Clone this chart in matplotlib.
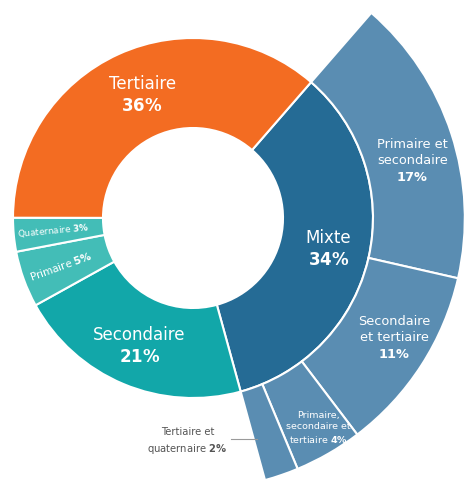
import matplotlib.pyplot as plt
import numpy as np

# répartition par secteur (anneau principal)
secteurs = ['Mixte', 'Secondaire', 'Primaire', 'Quaternaire', 'Tertiaire']
parts = [34, 21, 5, 3, 36]
couleurs = ['#256b95', '#12a7a9', '#43bdb7', '#43bdb7', '#f36c22']

# détail du secteur mixte (anneau extérieur)
mixte_detail = ['Primaire et\nsecondaire', 'Secondaire\net tertiaire',
                'Primaire,\nsecondaire et\ntertiaire', 'Tertiaire et\nquaternaire']
mixte_parts = [17, 11, 4, 2]
couleur_mixte = '#5a8db2'

DEBUT = 49
R_IN, R_OUT = 1.0, 1.51

fig = plt.figure(figsize=(4.68, 4.79), dpi=100)
ax = fig.add_axes([0, 0, 1, 1])

bord = dict(edgecolor='white', linewidth=1.5)
w_in, _ = ax.pie(parts, colors=couleurs, startangle=DEBUT, counterclock=False,
                 radius=R_IN, wedgeprops=dict(width=0.5, **bord))

reste = sum(parts) - sum(mixte_parts)
w_out, _ = ax.pie(mixte_parts + [reste], colors=[couleur_mixte] * 4 + ['none'],
                  startangle=DEBUT, counterclock=False, radius=R_OUT,
                  wedgeprops=dict(width=R_OUT - R_IN, **bord))
w_out[-1].set_visible(False)


def milieu(w, decal=0):
    return np.deg2rad((w.theta1 + w.theta2) / 2 + decal)


def pos(w, r, decal=0):
    a = milieu(w, decal)
    return r * np.cos(a), r * np.sin(a)


# étiquettes de l'anneau principal
for i, r, decal in [(0, 0.77, 0), (1, 0.77, 0), (4, 0.74, -2)]:
    x, y = pos(w_in[i], r, decal)
    ax.text(x, y, secteurs[i] + '\n$\\mathbf{%d\\%%}$' % parts[i], color='white',
            fontsize=12, ha='center', va='center', linespacing=1.3)

for i, taille in [(2, 7.5), (3, 6.3)]:
    x, y = pos(w_in[i], 0.78)
    rot = np.rad2deg(milieu(w_in[i])) + 180
    ax.text(x, y, secteurs[i] + ' $\\mathbf{%d\\%%}$' % parts[i], color='white',
            fontsize=taille, ha='center', va='center', rotation=rot,
            rotation_mode='anchor')

# étiquettes de l'anneau extérieur
for i, r, decal, taille in [(0, 1.26, -3.5, 9.3), (1, 1.30, 2, 9.3),
                            (2, 1.36, 1, 6.8)]:
    x, y = pos(w_out[i], r, decal)
    if i < 2:
        txt = mixte_detail[i] + '\n$\\mathbf{%d\\%%}$' % mixte_parts[i]
    else:
        txt = mixte_detail[i] + ' $\\mathbf{%d\\%%}$' % mixte_parts[i]
    ax.text(x, y, txt, color='white', fontsize=taille, ha='center', va='center',
            linespacing=1.35)

# petit segment tertiaire et quaternaire : étiquette à l'extérieur
x, y = pos(w_out[3], 1.30)
ax.plot([0.21, x - 0.07], [y, y], color='#9a9a9a', linewidth=0.8)
ax.text(-0.03, y - 0.01, mixte_detail[3] + ' $\\mathbf{%d\\%%}$' % mixte_parts[3],
        color='#555555', fontsize=7.2, ha='center', va='center', linespacing=1.5)

ax.set_xlim(-193 / 180, 275 / 180)
ax.set_ylim(-261 / 180, 218 / 180)
ax.set_aspect('equal')
ax.axis('off')

fig.savefig('out.png', dpi=100, facecolor='white')
